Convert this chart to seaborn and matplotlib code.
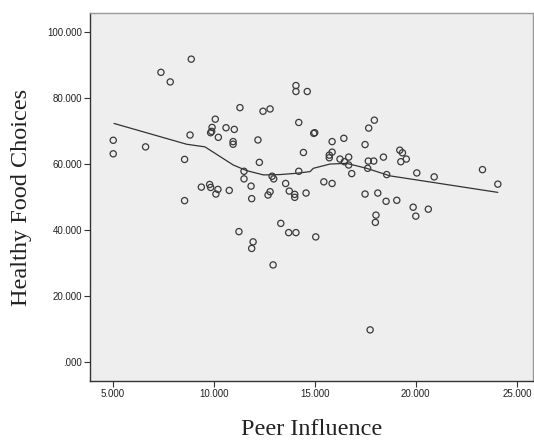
import matplotlib
matplotlib.use("Agg")
import matplotlib.pyplot as plt
import seaborn as sns
import pandas as pd
from matplotlib.ticker import FuncFormatter

# Scatter data
peer_influence = [
    8.89, 7.39, 7.85, 14.07, 14.07, 14.63, 11.30, 12.44, 12.79, 10.08,
    14.21, 9.92, 9.90, 9.85, 10.61, 11.02, 10.23, 8.83, 5.03, 6.63,
    5.03, 10.96, 10.96, 12.19, 14.44, 8.56, 12.26, 11.50, 14.21, 11.50,
    12.89, 12.97, 11.85, 13.56, 9.39, 9.80, 9.85, 10.21, 10.11, 10.77,
    12.79, 12.69, 13.74, 14.01, 14.01, 14.57, 11.88, 8.56,
    15.00, 14.95, 17.95, 17.67, 16.44, 15.86, 17.49, 15.86, 15.72, 15.72,
    16.25, 16.68, 16.47, 16.68, 16.83, 17.65, 17.92, 17.62, 18.40, 19.21,
    19.34, 19.53, 19.26, 18.56, 20.05, 20.91, 23.30, 24.06, 15.45, 15.86,
    17.49, 18.12, 18.53, 19.06, 19.87, 20.62,
    18.03, 18.00, 20.00, 15.05, 17.74,
    11.25, 13.32, 13.71, 14.07, 11.95, 11.88, 12.94,
]
healthy_food = [
    91.8, 87.8, 84.9, 83.8, 82.0, 82.0, 77.1, 76.0, 76.7, 73.6,
    72.6, 71.1, 69.9, 69.5, 71.0, 70.5, 68.1, 68.8, 67.2, 65.2,
    63.1, 66.8, 66.0, 67.3, 63.5, 61.4, 60.5, 57.8, 57.8, 55.5,
    56.3, 55.5, 53.3, 54.1, 53.0, 53.8, 52.9, 52.3, 50.9, 52.0,
    51.6, 50.6, 51.8, 50.8, 49.9, 51.2, 49.5, 48.9,
    69.5, 69.3, 73.3, 70.9, 67.8, 66.8, 65.9, 63.6, 62.7, 61.9,
    61.5, 62.1, 60.7, 59.7, 57.1, 60.9, 60.9, 58.7, 62.1, 64.2,
    63.4, 61.5, 60.7, 56.8, 57.3, 56.1, 58.3, 53.9, 54.6, 54.1,
    50.9, 51.2, 48.7, 49.0, 46.9, 46.3,
    44.5, 42.3, 44.2, 37.9, 9.7,
    39.5, 42.0, 39.2, 39.2, 36.4, 34.4, 29.4,
]

# Loess fit line
fit_x = [5.07, 8.66, 9.57, 10.97, 11.63, 12.46, 13.28, 14.11, 14.77,
         14.93, 15.76, 16.58, 17.57, 18.73, 19.06, 24.06]
fit_y = [72.3, 66.0, 65.2, 59.7, 58.0, 56.7, 56.8, 57.2, 57.7,
         58.7, 60.0, 60.2, 58.7, 56.4, 56.1, 51.4]

x_ticks = [5, 10, 15, 20, 25]
y_ticks = [0, 20, 40, 60, 80, 100]

df = pd.DataFrame({"Peer Influence": peer_influence,
                   "Healthy Food Choices": healthy_food})
fit_df = pd.DataFrame({"x": fit_x, "y": fit_y})

sns.set_style("white")
fig = plt.figure(figsize=(5.34, 4.40), dpi=100)
ax = fig.add_axes([90 / 534, 59 / 440, 443 / 534, 368 / 440])
ax.set_facecolor("#eeeeee")

sns.lineplot(data=fit_df, x="x", y="y", ax=ax, color="#333333",
             linewidth=0.9, sort=False, zorder=2)
sns.scatterplot(data=df, x="Peer Influence", y="Healthy Food Choices", ax=ax,
                marker="o", s=20, facecolors="none", edgecolor="#3a3a3a",
                linewidth=0.9, zorder=3)

ax.set_xlim(3.88, 25.8)
ax.set_ylim(-5.8, 105.8)
ax.set_xticks(x_ticks)
ax.set_yticks(y_ticks)


def fmt(v, pos):
    s = f"{v:.3f}"
    if s.startswith("0."):
        s = s[1:]
    return s


ax.xaxis.set_major_formatter(FuncFormatter(fmt))
ax.yaxis.set_major_formatter(FuncFormatter(fmt))
ax.tick_params(axis="both", which="major", direction="out", length=4,
               width=0.8, color="#333333", labelsize=7, pad=1.5,
               labelcolor="#222222", bottom=True, left=True)
for lbl in ax.get_xticklabels() + ax.get_yticklabels():
    lbl.set_family("Liberation Sans")

for side in ["left", "bottom"]:
    ax.spines[side].set_color("#333333")
    ax.spines[side].set_linewidth(1.0)
for side in ["top", "right"]:
    ax.spines[side].set_color("#999999")
    ax.spines[side].set_linewidth(1.0)

ax.set_xlabel("Peer Influence", family="Liberation Serif", fontsize=17.5,
              color="#222222", labelpad=15)
ax.set_ylabel("Healthy Food Choices", family="Liberation Serif", fontsize=17.5,
              color="#222222", labelpad=11)

fig.savefig("out.png", dpi=100)
